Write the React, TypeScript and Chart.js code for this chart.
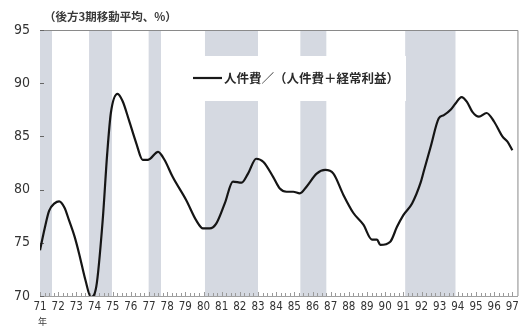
import React, { useEffect, useRef } from "react";
import { Chart, registerables } from "chart.js";

Chart.register(...registerables);

const years: number[] = [
  71.0, 71.25, 71.5, 71.8, 72.05, 72.35, 72.6, 72.9, 73.15, 73.5, 73.8, 74.1, 74.45, 74.7, 74.9,
  75.27, 75.55, 75.9, 76.3, 76.65, 76.95, 77.5, 77.85, 78.3, 79.05, 79.6, 79.97, 80.34, 80.7,
  81.17, 81.62, 82.1, 82.45, 82.9, 83.3, 83.83, 84.2, 84.57, 84.94, 85.3, 85.68, 86.23, 86.7,
  87.15, 87.7, 88.25, 88.8, 89.27, 89.55, 89.73, 90.28, 90.65, 91.0, 91.48, 91.94, 92.12, 92.5,
  92.95, 93.23, 93.6, 93.87, 94.2, 94.5, 94.8, 95.16, 95.58, 95.99, 96.45, 96.73, 97.0,
];
const ratio: number[] = [
  74.3, 76.3, 78.0, 78.7, 78.9, 78.3, 77.1, 75.6, 74.0, 71.5, 69.9, 70.9, 77.1, 83.4, 87.2,
  89.0, 88.3, 86.5, 84.35, 82.8, 82.8, 83.55, 82.8, 81.2, 79.0, 77.1, 76.35, 76.35, 76.8,
  78.7, 80.75, 80.65, 81.5, 82.9, 82.6, 81.2, 80.1, 79.8, 79.8, 79.65, 80.3, 81.5, 81.85,
  81.5, 79.5, 77.8, 76.7, 75.3, 75.3, 74.8, 75.1, 76.5, 77.6, 78.7, 80.6, 81.7, 84.0,
  86.7, 87.0, 87.5, 88.1, 88.7, 88.25, 87.3, 86.85, 87.2, 86.4, 85.0, 84.5, 83.7,
];
const bandStarts: number[] = [71.0, 73.7, 76.98, 80.08, 85.33, 91.1];
const bandEnds: number[] = [71.66, 74.96, 77.66, 83.0, 86.76, 93.87];
const xTicks: number[] = Array.from({ length: 27 }, (_, i) => 71 + i);
const yTicks: number[] = [70, 75, 80, 85, 90, 95];
const seriesLabel = "人件費／（人件費＋経常利益）";
const unitLabel = "（後方3期移動平均、%）";
const yearUnit = "年";

const bandColor = "#d5d9e1";
const numFont = "'Liberation Sans Narrow', 'DejaVu Sans Condensed', 'Liberation Sans', sans-serif";
const cjkFont = "'Noto Sans CJK JP', 'Noto Sans CJK SC', sans-serif";

const decor = {
  id: "decor",
  beforeDatasetsDraw(chart: any) {
    const { ctx, chartArea, scales } = chart;
    const xs = scales.x;
    const ys = scales.y;
    ctx.save();
    ctx.fillStyle = bandColor;
    for (let i = 0; i < bandStarts.length; i++) {
      const a = xs.getPixelForValue(bandStarts[i]);
      const b = xs.getPixelForValue(bandEnds[i]);
      ctx.fillRect(a, chartArea.top, b - a, chartArea.bottom - chartArea.top);
    }
    ctx.fillStyle = "#ffffff";
    ctx.fillRect(185, 56, 221, 45);
    ctx.strokeStyle = "#8a8a8a";
    ctx.lineWidth = 1;
    ctx.beginPath();
    ctx.moveTo(chartArea.left, chartArea.top + 0.5);
    ctx.lineTo(chartArea.right + 0.5, chartArea.top + 0.5);
    ctx.lineTo(chartArea.right + 0.5, chartArea.bottom);
    ctx.stroke();
    ctx.strokeStyle = "#666";
    ctx.beginPath();
    for (const v of yTicks) {
      const y = Math.round(ys.getPixelForValue(v)) + 0.5;
      ctx.moveTo(chartArea.left, y);
      ctx.lineTo(chartArea.left + 4, y);
    }
    ctx.stroke();
    ctx.strokeStyle = "#9a9a9a";
    ctx.beginPath();
    for (let q = 0; q <= 26 * 4; q++) {
      const v = 71 + q / 4;
      const x = Math.round(xs.getPixelForValue(v)) + 0.5;
      const len = q % 4 === 0 ? 4 : 3;
      ctx.moveTo(x, chartArea.bottom);
      ctx.lineTo(x, chartArea.bottom - len);
    }
    ctx.stroke();
    ctx.restore();
  },
  afterDraw(chart: any) {
    const { ctx } = chart;
    ctx.save();
    ctx.strokeStyle = "#1a1a1a";
    ctx.lineWidth = 2.2;
    ctx.beginPath();
    ctx.moveTo(193, 78);
    ctx.lineTo(222, 78);
    ctx.stroke();
    ctx.fillStyle = "#2a2a2a";
    ctx.font = "bold 12.5px " + cjkFont;
    ctx.textBaseline = "middle";
    ctx.textAlign = "left";
    ctx.fillText(seriesLabel, 224, 78);
    ctx.font = "bold 11.5px " + cjkFont;
    ctx.fillStyle = "#3a3a3a";
    ctx.fillText(unitLabel, 44, 17);
    ctx.font = "9px " + cjkFont;
    ctx.fillText(yearUnit, 38, 322);
    ctx.restore();
  },
};

export default function App() {
  const ref = useRef<HTMLCanvasElement | null>(null);
  useEffect(() => {
    document.body.style.margin = "0";
    const canvas = ref.current!;
    const chart = new Chart(canvas, {
      type: "line",
      data: {
        datasets: [
          {
            label: seriesLabel,
            data: years.map((x, i) => ({ x, y: ratio[i] })),
            borderColor: "#151515",
            borderWidth: 2.2,
            pointRadius: 0,
            cubicInterpolationMode: "monotone",
            fill: false,
          },
        ],
      },
      options: {
        animation: false,
        responsive: false,
        maintainAspectRatio: false,
        layout: { padding: { top: 30, right: 5, left: 0, bottom: 0 } },
        plugins: { legend: { display: false }, tooltip: { enabled: false } },
        scales: {
          x: {
            type: "linear",
            min: 71,
            max: 97.28,
            afterBuildTicks: (s: any) => {
              s.ticks = xTicks.map((v) => ({ value: v }));
            },
            afterFit: (s: any) => {
              s.height = 35;
            },
            ticks: {
              autoSkip: false,
              maxRotation: 0,
              padding: 4,
              color: "#333",
              font: { family: numFont, size: 11.5 },
              callback: (v: any) => String(v),
            },
            grid: { drawOnChartArea: false, drawTicks: false },
            border: { display: true, color: "#a0a0a0", width: 1 },
          },
          y: {
            min: 70,
            max: 95,
            afterBuildTicks: (s: any) => {
              s.ticks = yTicks.map((v) => ({ value: v }));
            },
            afterFit: (s: any) => {
              s.width = 40;
            },
            ticks: {
              padding: 10,
              color: "#333",
              font: { family: numFont, size: 14 },
            },
            grid: { drawOnChartArea: false, drawTicks: false },
            border: { display: true, color: "#8a8a8a", width: 1 },
          },
        },
      },
      plugins: [decor],
    });
    return () => chart.destroy();
  }, []);
  return (
    <div style={{ position: "absolute", left: 0, top: 0, width: 523, height: 331, background: "#fff" }}>
      <canvas ref={ref} width={523} height={331} style={{ display: "block" }} />
    </div>
  );
}
